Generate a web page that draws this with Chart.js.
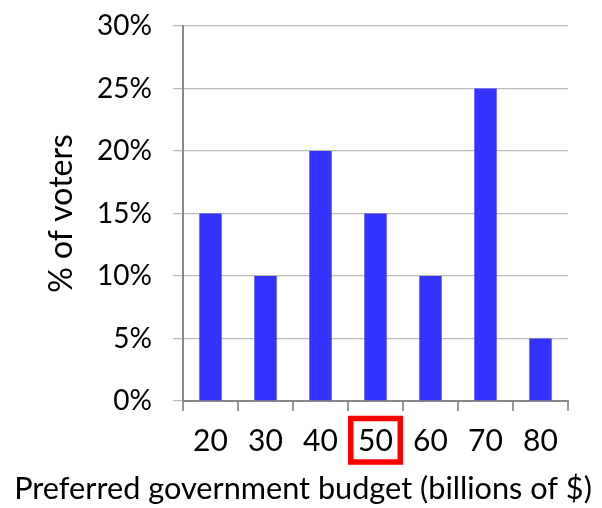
<!DOCTYPE html>
<html>
<head>
<meta charset="utf-8">
<script src="https://cdn.jsdelivr.net/npm/chart.js@4.4.0/dist/chart.umd.min.js"></script>
<style>
  html, body { margin: 0; padding: 0; background: #fff; }
  #wrap { width: 602px; height: 508px; }
</style>
</head>
<body>
<div id="wrap"><canvas id="c" width="602" height="508"></canvas></div>
<script>
const categories = ["20", "30", "40", "50", "60", "70", "80"];
const voterShare = [15, 10, 20, 15, 10, 25, 5];
const yTicks = [0, 5, 10, 15, 20, 25, 30];
const highlighted = "50";
const xTitle = "Preferred government budget (billions of $)";
const yTitle = "% of voters";

const FONT = "Lato";

const decorations = {
  id: 'decorations',
  afterDraw(chart) {
    const x = chart.scales.x;
    const idx = categories.indexOf(highlighted);
    const cx = x.getPixelForValue(idx);
    const ctx = chart.ctx;
    ctx.save();
    ctx.strokeStyle = '#ff0000';
    ctx.lineWidth = 5.5;
    ctx.strokeRect(cx - 24.75, 418.5, 49.5, 43.5);

    // x axis title, spanning nearly the full canvas width as in the reference
    let size = 32;
    ctx.font = size + 'px ' + FONT;
    const w = ctx.measureText(xTitle).width;
    size = size * 578 / w;
    ctx.font = size + 'px ' + FONT;
    ctx.fillStyle = '#000';
    ctx.textAlign = 'center';
    ctx.textBaseline = 'alphabetic';
    ctx.fillText(xTitle, 303, 499);
    ctx.restore();
  }
};

new Chart(document.getElementById('c'), {
  type: 'bar',
  data: {
    labels: categories,
    datasets: [{
      data: voterShare,
      backgroundColor: '#3333ff',
      borderWidth: 0,
      barPercentage: 0.407,
      categoryPercentage: 1.0
    }]
  },
  options: {
    responsive: false,
    animation: false,
    events: [],
    layout: { padding: { top: 26, right: 34, left: 0, bottom: 0 } },
    plugins: { legend: { display: false }, tooltip: { enabled: false } },
    scales: {
      x: {
        grid: {
          offset: true,
          drawOnChartArea: false,
          drawTicks: true,
          tickLength: 10,
          color: '#999999',
          lineWidth: 2
        },
        border: { color: '#888888', width: 2 },
        ticks: {
          color: '#000',
          font: { family: FONT, size: 30 },
          padding: 12,
          maxRotation: 0
        },
        title: { display: false },
        afterFit(scale) { scale.height = 107; scale.paddingLeft = 0; scale.paddingRight = 0; }
      },
      y: {
        min: 0,
        max: 30,
        afterBuildTicks(scale) { scale.ticks = yTicks.map(v => ({ value: v })); },
        grid: {
          color: '#bbbbbb',
          lineWidth: 1.3,
          drawTicks: true,
          tickLength: 10
        },
        border: { color: '#888888', width: 2 },
        ticks: {
          color: '#000',
          font: { family: FONT, size: 28 },
          padding: 21,
          callback: (v) => v + '%'
        },
        title: {
          display: true,
          text: yTitle,
          color: '#000',
          font: { family: FONT, size: 32 },
          padding: { top: 42, bottom: 0 }
        },
        afterFit(scale) { scale.width = 183; scale.paddingTop = 0; scale.paddingBottom = 0; }
      }
    }
  },
  plugins: [decorations]
});
</script>
</body>
</html>
